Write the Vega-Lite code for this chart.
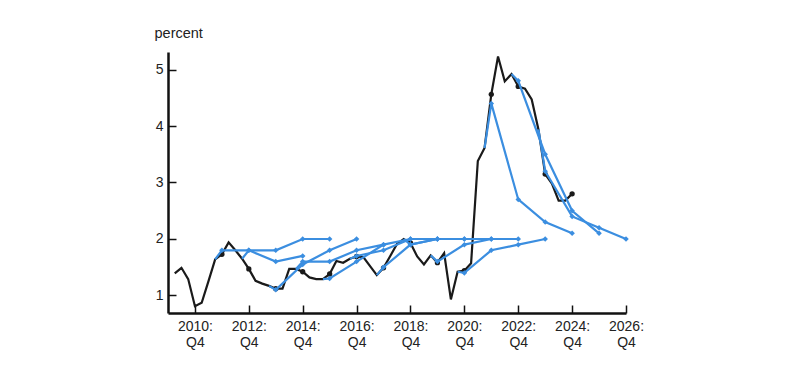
{
  "$schema": "https://vega.github.io/schema/vega-lite/v6.json",
  "autosize": {"type": "none"},
  "width": 458,
  "height": 261,
  "padding": {"left": 168, "top": 52, "right": 174, "bottom": 63},
  "background": "white",
  "config": {
    "view": {"stroke": null},
    "font": "Liberation Sans",
    "axis": {
      "domainColor": "#111",
      "domainWidth": 2.5,
      "tickColor": "#111",
      "tickWidth": 1.5,
      "tickSize": -8,
      "grid": false,
      "labelFont": "Liberation Sans",
      "labelFontSize": 14,
      "labelColor": "#222"
    }
  },
  "datasets": {
    "actual": [
      {"t": 2010.0, "v": 1.39}, {"t": 2010.25, "v": 1.49}, {"t": 2010.5, "v": 1.29}, {"t": 2010.75, "v": 0.81},
      {"t": 2011.0, "v": 0.87}, {"t": 2011.25, "v": 1.25}, {"t": 2011.5, "v": 1.64}, {"t": 2011.75, "v": 1.73},
      {"t": 2012.0, "v": 1.94}, {"t": 2012.25, "v": 1.80}, {"t": 2012.5, "v": 1.65}, {"t": 2012.75, "v": 1.47},
      {"t": 2013.0, "v": 1.26}, {"t": 2013.25, "v": 1.21}, {"t": 2013.5, "v": 1.17}, {"t": 2013.75, "v": 1.12},
      {"t": 2014.0, "v": 1.12}, {"t": 2014.25, "v": 1.47}, {"t": 2014.5, "v": 1.47}, {"t": 2014.75, "v": 1.42},
      {"t": 2015.0, "v": 1.32}, {"t": 2015.25, "v": 1.29}, {"t": 2015.5, "v": 1.29}, {"t": 2015.75, "v": 1.38},
      {"t": 2016.0, "v": 1.61}, {"t": 2016.25, "v": 1.58}, {"t": 2016.5, "v": 1.65}, {"t": 2016.75, "v": 1.69},
      {"t": 2017.0, "v": 1.68}, {"t": 2017.25, "v": 1.52}, {"t": 2017.5, "v": 1.36}, {"t": 2017.75, "v": 1.49},
      {"t": 2018.0, "v": 1.70}, {"t": 2018.25, "v": 1.91}, {"t": 2018.5, "v": 2.0}, {"t": 2018.75, "v": 1.93},
      {"t": 2019.0, "v": 1.69}, {"t": 2019.25, "v": 1.55}, {"t": 2019.5, "v": 1.71}, {"t": 2019.75, "v": 1.58},
      {"t": 2020.0, "v": 1.75}, {"t": 2020.25, "v": 0.93}, {"t": 2020.5, "v": 1.42}, {"t": 2020.75, "v": 1.44},
      {"t": 2021.0, "v": 1.57}, {"t": 2021.25, "v": 3.38}, {"t": 2021.5, "v": 3.61}, {"t": 2021.75, "v": 4.56},
      {"t": 2022.0, "v": 5.23}, {"t": 2022.25, "v": 4.79}, {"t": 2022.5, "v": 4.92}, {"t": 2022.75, "v": 4.70},
      {"t": 2023.0, "v": 4.66}, {"t": 2023.25, "v": 4.47}, {"t": 2023.5, "v": 3.94}, {"t": 2023.75, "v": 3.15},
      {"t": 2024.0, "v": 2.98}, {"t": 2024.25, "v": 2.68}, {"t": 2024.5, "v": 2.68}, {"t": 2024.75, "v": 2.80}
    ],
    "proj": [
      {"vintage": "2011", "kind": "latest", "t": 2011.5, "v": 1.64},
      {"vintage": "2011", "kind": "projection", "t": 2011.75, "v": 1.8},
      {"vintage": "2011", "kind": "projection", "t": 2012.75, "v": 1.8},
      {"vintage": "2011", "kind": "projection", "t": 2013.75, "v": 1.6},
      {"vintage": "2011", "kind": "projection", "t": 2014.75, "v": 1.7},
      {"vintage": "2012", "kind": "latest", "t": 2012.5, "v": 1.65},
      {"vintage": "2012", "kind": "projection", "t": 2012.75, "v": 1.8},
      {"vintage": "2012", "kind": "projection", "t": 2013.75, "v": 1.8},
      {"vintage": "2012", "kind": "projection", "t": 2014.75, "v": 2.0},
      {"vintage": "2012", "kind": "projection", "t": 2015.75, "v": 2.0},
      {"vintage": "2013", "kind": "latest", "t": 2013.5, "v": 1.17},
      {"vintage": "2013", "kind": "projection", "t": 2013.75, "v": 1.1},
      {"vintage": "2013", "kind": "projection", "t": 2014.75, "v": 1.55},
      {"vintage": "2013", "kind": "projection", "t": 2015.75, "v": 1.8},
      {"vintage": "2013", "kind": "projection", "t": 2016.75, "v": 2.0},
      {"vintage": "2014", "kind": "latest", "t": 2014.5, "v": 1.47},
      {"vintage": "2014", "kind": "projection", "t": 2014.75, "v": 1.6},
      {"vintage": "2014", "kind": "projection", "t": 2015.75, "v": 1.6},
      {"vintage": "2014", "kind": "projection", "t": 2016.75, "v": 1.8},
      {"vintage": "2014", "kind": "projection", "t": 2017.75, "v": 1.9},
      {"vintage": "2015", "kind": "latest", "t": 2015.5, "v": 1.29},
      {"vintage": "2015", "kind": "projection", "t": 2015.75, "v": 1.3},
      {"vintage": "2015", "kind": "projection", "t": 2016.75, "v": 1.6},
      {"vintage": "2015", "kind": "projection", "t": 2017.75, "v": 1.9},
      {"vintage": "2015", "kind": "projection", "t": 2018.75, "v": 2.0},
      {"vintage": "2016", "kind": "latest", "t": 2016.5, "v": 1.65},
      {"vintage": "2016", "kind": "projection", "t": 2016.75, "v": 1.7},
      {"vintage": "2016", "kind": "projection", "t": 2017.75, "v": 1.8},
      {"vintage": "2016", "kind": "projection", "t": 2018.75, "v": 2.0},
      {"vintage": "2016", "kind": "projection", "t": 2019.75, "v": 2.0},
      {"vintage": "2017", "kind": "latest", "t": 2017.5, "v": 1.36},
      {"vintage": "2017", "kind": "projection", "t": 2017.75, "v": 1.5},
      {"vintage": "2017", "kind": "projection", "t": 2018.75, "v": 1.9},
      {"vintage": "2017", "kind": "projection", "t": 2019.75, "v": 2.0},
      {"vintage": "2017", "kind": "projection", "t": 2020.75, "v": 2.0},
      {"vintage": "2018", "kind": "latest", "t": 2018.5, "v": 2.0},
      {"vintage": "2018", "kind": "projection", "t": 2018.75, "v": 1.9},
      {"vintage": "2018", "kind": "projection", "t": 2019.75, "v": 2.0},
      {"vintage": "2018", "kind": "projection", "t": 2020.75, "v": 2.0},
      {"vintage": "2018", "kind": "projection", "t": 2021.75, "v": 2.0},
      {"vintage": "2019", "kind": "latest", "t": 2019.5, "v": 1.71},
      {"vintage": "2019", "kind": "projection", "t": 2019.75, "v": 1.6},
      {"vintage": "2019", "kind": "projection", "t": 2020.75, "v": 1.9},
      {"vintage": "2019", "kind": "projection", "t": 2021.75, "v": 2.0},
      {"vintage": "2019", "kind": "projection", "t": 2022.75, "v": 2.0},
      {"vintage": "2020", "kind": "latest", "t": 2020.5, "v": 1.42},
      {"vintage": "2020", "kind": "projection", "t": 2020.75, "v": 1.4},
      {"vintage": "2020", "kind": "projection", "t": 2021.75, "v": 1.8},
      {"vintage": "2020", "kind": "projection", "t": 2022.75, "v": 1.9},
      {"vintage": "2020", "kind": "projection", "t": 2023.75, "v": 2.0},
      {"vintage": "2021", "kind": "latest", "t": 2021.5, "v": 3.61},
      {"vintage": "2021", "kind": "projection", "t": 2021.75, "v": 4.4},
      {"vintage": "2021", "kind": "projection", "t": 2022.75, "v": 2.7},
      {"vintage": "2021", "kind": "projection", "t": 2023.75, "v": 2.3},
      {"vintage": "2021", "kind": "projection", "t": 2024.75, "v": 2.1},
      {"vintage": "2022", "kind": "latest", "t": 2022.5, "v": 4.92},
      {"vintage": "2022", "kind": "projection", "t": 2022.75, "v": 4.8},
      {"vintage": "2022", "kind": "projection", "t": 2023.75, "v": 3.5},
      {"vintage": "2022", "kind": "projection", "t": 2024.75, "v": 2.5},
      {"vintage": "2022", "kind": "projection", "t": 2025.75, "v": 2.1},
      {"vintage": "2023", "kind": "latest", "t": 2023.5, "v": 3.94},
      {"vintage": "2023", "kind": "projection", "t": 2023.75, "v": 3.2},
      {"vintage": "2023", "kind": "projection", "t": 2024.75, "v": 2.4},
      {"vintage": "2023", "kind": "projection", "t": 2025.75, "v": 2.2},
      {"vintage": "2023", "kind": "projection", "t": 2026.75, "v": 2.0}
    ]
  },
  "encoding": {
    "x": {
      "field": "t", "type": "quantitative",
      "scale": {"domain": [2009.75, 2026.75], "nice": false, "zero": false},
      "axis": {
        "title": null,
        "values": [2010.75, 2012.75, 2014.75, 2016.75, 2018.75, 2020.75, 2022.75, 2024.75, 2026.75],
        "labelExpr": "[floor(datum.value) + ':', 'Q4']",
        "labelPadding": 14,
        "labelLineHeight": 16,
        "labelFlush": false,
        "labelOverlap": false
      }
    },
    "y": {
      "field": "v", "type": "quantitative",
      "scale": {"domain": [0.69, 5.31], "nice": false, "zero": false},
      "axis": {
        "values": [1, 2, 3, 4, 5],
        "title": "percent",
        "titleAngle": 0,
        "titleAlign": "left",
        "titleBaseline": "middle",
        "titleX": -14,
        "titleY": -19,
        "titleFont": "Liberation Sans",
        "titleFontSize": 14.5,
        "titleFontWeight": "normal",
        "titleColor": "#222",
        "labelPadding": 13
      }
    }
  },
  "layer": [
    {
      "data": {"name": "actual"},
      "mark": {"type": "line", "color": "#1a1a1a", "strokeWidth": 2.2},
      "encoding": {}
    },
    {
      "data": {"name": "actual"},
      "transform": [{"filter": "datum.t - floor(datum.t) === 0.75 && datum.t > 2011"}],
      "mark": {"type": "point", "shape": "circle", "filled": true, "color": "#1a1a1a", "size": 28, "opacity": 1}
    },
    {
      "data": {"name": "proj"},
      "mark": {"type": "line", "color": "#3b8ee0", "strokeWidth": 2.2},
      "encoding": {"detail": {"field": "vintage"}, "order": {"field": "t"}}
    },
    {
      "data": {"name": "proj"},
      "transform": [{"filter": "datum.kind === 'projection'"}],
      "mark": {"type": "point", "shape": "diamond", "filled": true, "color": "#3b8ee0", "size": 30, "opacity": 1}
    }
  ]
}
